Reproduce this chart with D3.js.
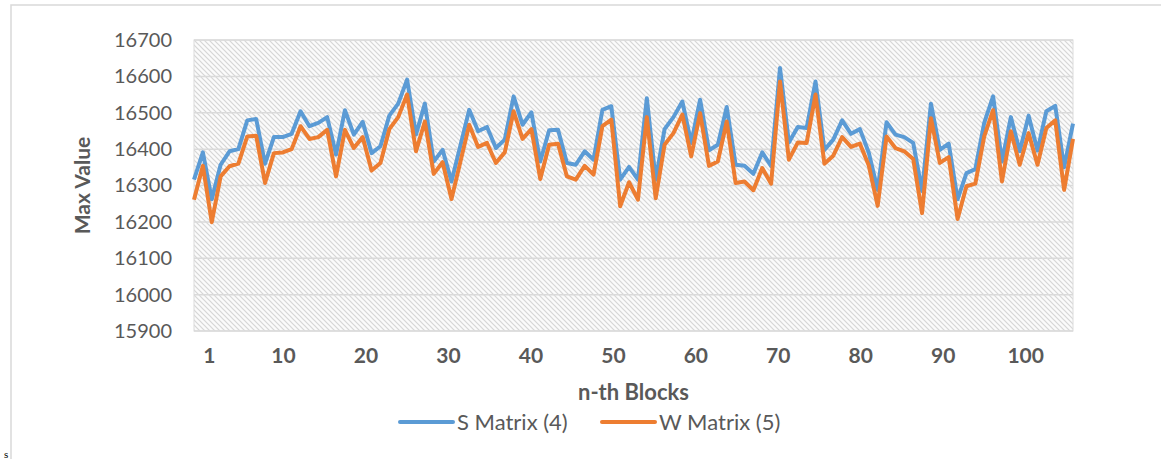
<!DOCTYPE html>
<html>
<head>
<meta charset="utf-8">
<script src="https://cdn.jsdelivr.net/npm/d3@7"></script>
<style>
  body { margin: 0; background: #fff; }
  svg { display: block; font-family: Lato, "Open Sans", sans-serif; }
</style>
</head>
<body>
<div id="chart"></div>
<script>
// Max value per block
const sMatrix = [16316, 16391, 16262, 16357, 16394, 16400, 16479, 16483, 16360, 16433,
  16433, 16442, 16504, 16463, 16472, 16488, 16385, 16507, 16440, 16475,
  16389, 16408, 16492, 16525, 16591, 16440, 16525, 16366, 16398, 16311,
  16409, 16508, 16449, 16461, 16403, 16426, 16545, 16467, 16501, 16366,
  16452, 16453, 16362, 16357, 16394, 16371, 16508, 16518, 16316, 16351,
  16316, 16540, 16316, 16455, 16488, 16531, 16417, 16536, 16397, 16412,
  16516, 16357, 16354, 16332, 16391, 16353, 16623, 16418, 16461, 16458,
  16586, 16398, 16426, 16479, 16442, 16455, 16390, 16288, 16474, 16440,
  16433, 16417, 16285, 16525, 16398, 16415, 16262, 16334, 16345, 16472,
  16545, 16366, 16488, 16394, 16492, 16396, 16504, 16519, 16350, 16470];

const wMatrix = [16261, 16354, 16199, 16325, 16353, 16360, 16435, 16437, 16307, 16389,
  16391, 16400, 16463, 16428, 16433, 16453, 16325, 16453, 16403, 16433,
  16341, 16362, 16455, 16488, 16550, 16394, 16476, 16332, 16364, 16263,
  16365, 16467, 16406, 16417, 16362, 16391, 16504, 16428, 16455, 16318,
  16412, 16415, 16325, 16316, 16354, 16330, 16463, 16481, 16243, 16309,
  16261, 16488, 16265, 16412, 16444, 16495, 16380, 16499, 16354, 16366,
  16476, 16307, 16311, 16287, 16348, 16305, 16586, 16371, 16418, 16417,
  16550, 16360, 16382, 16433, 16406, 16415, 16355, 16244, 16435, 16403,
  16394, 16373, 16224, 16485, 16362, 16378, 16208, 16298, 16305, 16435,
  16507, 16311, 16449, 16357, 16444, 16357, 16458, 16479, 16288, 16428];

const xTickLabels = [1, 10, 20, 30, 40, 50, 60, 70, 80, 90, 100];
const yTicks = [15900, 16000, 16100, 16200, 16300, 16400, 16500, 16600, 16700];
const seriesNames = ["S Matrix (4)", "W Matrix (5)"];
const seriesColors = ["#5B9BD5", "#ED7D31"];

const W = 1161, H = 459;
const margin = {top: 40, right: 88, bottom: 128, left: 194};
const w = W - margin.left - margin.right;
const h = H - margin.top - margin.bottom;

const svg = d3.select("#chart").append("svg")
  .attr("width", W)
  .attr("height", H);

// chart frame (only top and left edges are inside the window)
svg.append("rect")
  .attr("x", 11).attr("y", 5)
  .attr("width", W + 20).attr("height", H + 20)
  .attr("fill", "none")
  .attr("stroke", "#d9d9d9")
  .attr("stroke-width", 1.5);

svg.append("text")
  .attr("x", 4).attr("y", 458)
  .attr("font-family", "Liberation Serif, serif")
  .attr("font-size", "11px")
  .attr("fill", "#000")
  .text("s");

const defs = svg.append("defs");
const pat = defs.append("pattern")
  .attr("id", "hatch")
  .attr("patternUnits", "userSpaceOnUse")
  .attr("width", 5).attr("height", 5);
pat.append("rect").attr("width", 5).attr("height", 5).attr("fill", "#fbfbfb");
pat.append("path")
  .attr("d", "M-1,-1 L6,6 M-1,4 L1,6 M4,-1 L6,1")
  .attr("stroke", "#d6d6d6")
  .attr("stroke-width", 1.2);

const g = svg.append("g").attr("transform", `translate(${margin.left},${margin.top})`);

const x = d3.scaleLinear().domain([0, sMatrix.length - 1]).range([0, w]);
// category labels sit on their own scale in the original
const xLab = d3.scaleLinear().domain([-0.8, 105.8]).range([0, w]);
const y = d3.scaleLinear().domain([15900, 16700]).range([h, 0]);

g.append("rect")
  .attr("width", w).attr("height", h)
  .attr("fill", "url(#hatch)")
  .attr("stroke", "#dcdcdc")
  .attr("stroke-width", 1);

// gridlines
g.append("g")
  .selectAll("line")
  .data(yTicks)
  .join("line")
  .attr("x1", 0).attr("x2", w)
  .attr("y1", d => y(d)).attr("y2", d => y(d))
  .attr("stroke", "#dadada")
  .attr("stroke-width", 1.5);

// y axis labels
const yAxis = g.append("g")
  .call(d3.axisLeft(y).tickValues(yTicks).tickSize(0).tickPadding(22).tickFormat(d3.format("d")));
yAxis.select(".domain").remove();
yAxis.selectAll("text")
  .attr("font-family", "Lato, sans-serif")
  .attr("font-size", "20px")
  .attr("fill", "#595959");

// x axis labels
const xAxis = g.append("g")
  .attr("transform", `translate(0,${h})`)
  .call(d3.axisBottom(xLab).tickValues(xTickLabels).tickSize(0).tickPadding(17).tickFormat(d3.format("d")));
xAxis.select(".domain").remove();
xAxis.selectAll("text")
  .attr("font-family", "Lato, sans-serif")
  .attr("font-size", "21px")
  .attr("font-weight", "bold")
  .attr("fill", "#595959");

// lines
const line = d3.line()
  .x((d, i) => x(i))
  .y(d => y(d));

[sMatrix, wMatrix].forEach((s, i) => {
  g.append("path")
    .datum(s)
    .attr("fill", "none")
    .attr("stroke", seriesColors[i])
    .attr("stroke-width", 4)
    .attr("stroke-linejoin", "round")
    .attr("d", line);
});

// axis titles
g.append("text")
  .attr("transform", `translate(-104,${h / 2}) rotate(-90)`)
  .attr("text-anchor", "middle")
  .attr("font-size", "21px")
  .attr("font-weight", "bold")
  .attr("fill", "#595959")
  .text("Max Value");

g.append("text")
  .attr("x", w / 2)
  .attr("y", h + 69)
  .attr("text-anchor", "middle")
  .attr("font-size", "22px")
  .attr("font-weight", "bold")
  .attr("fill", "#595959")
  .text("n-th Blocks");

// legend
const leg = svg.append("g").attr("transform", "translate(400,422)");
seriesNames.forEach((name, i) => {
  const item = leg.append("g").attr("transform", `translate(${i * 202},0)`);
  item.append("line")
    .attr("x1", 0).attr("x2", 53)
    .attr("stroke", seriesColors[i])
    .attr("stroke-width", 4)
    .attr("stroke-linecap", "round");
  item.append("text")
    .attr("x", 57)
    .attr("y", 8)
    .attr("font-size", "22px")
    .attr("fill", "#595959")
    .text(name);
});
</script>
</body>
</html>
